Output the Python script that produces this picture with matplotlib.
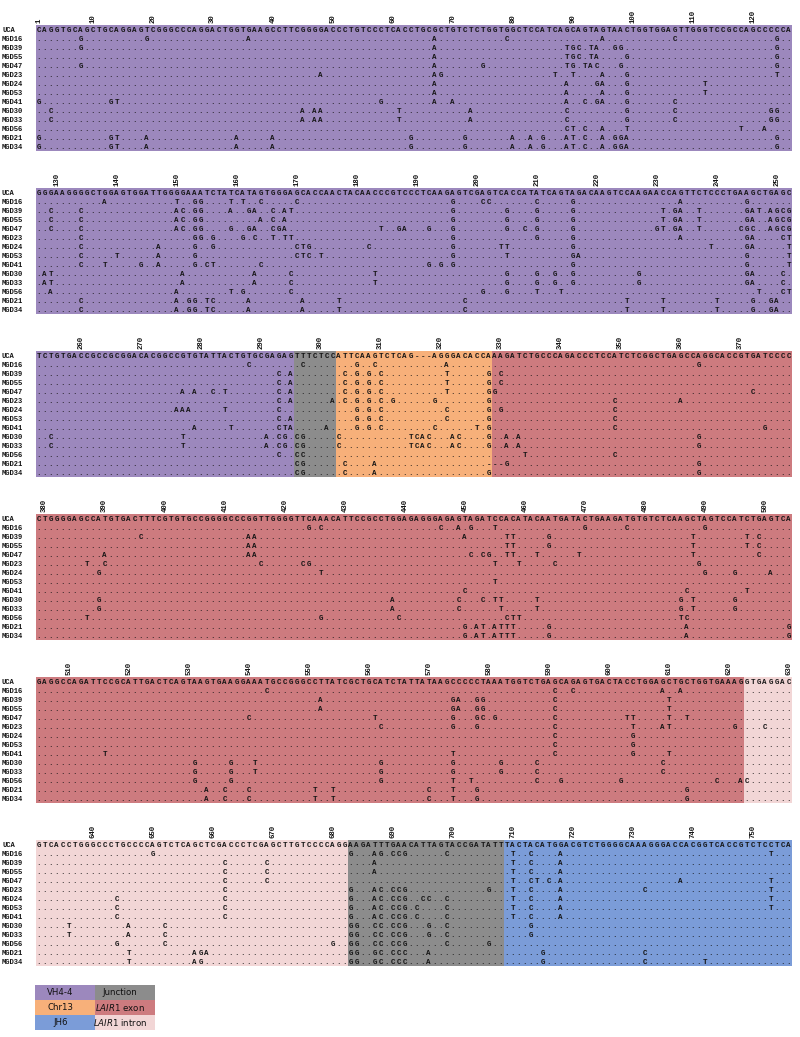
import matplotlib
matplotlib.use("Agg")
import matplotlib.pyplot as plt

# ---- data -------------------------------------------------------------
uca_blocks = [
    "CAGGTGCAGCTGCAGGAGTCGGGCCCAGGACTGGTGAAGCCTTCGGGGACCCTGTCCCTCACCTGCGCTGTCTCTGGTGGCTCCATCAGCAGTAGTAACTGGTGGAGTTGGGTCCGCCAGCCCCCA",
    "GGGAAGGGGCTGGAGTGGATTGGGGAAATCTATCATAGTGGGAGCACCAACTACAACCCGTCCCTCAAGAGTCGAGTCACCATATCAGTAGACAAGTCCAAGAACCAGTTCTCCCTGAAGCTGAGC",
    "TCTGTGACCGCCGCGGACACGGCCGTGTATTACTGTGCGAGAGTTTCTCCATTCAAGTCTCAG---AGGGACACCAAAGATCTGCCCAGACCCTCCATCTCGGCTGAGCCAGGCACCGTGATCCCC",
    "CTGGGGAGCCATGTGACTTTCGTGTGCCGGGGCCCGGTTGGGGTTCAAACATTCCGCCTGGAGAGGGAGAGTAGATCCACATACAATGATACTGAAGATGTGTCTCAAGCTAGTCCATCTGAGTCA",
    "GAGGCCAGATTCCGCATTGACTCAGTAAGTGAAGGAAATGCCGGGCCTTATCGCTGCATCTATTATAAGCCCCCTAAATGGTCTGAGCAGAGTGACTACCTGGAGCTGCTGGTGAAAGGTGAGGAC",
    "GTCACCTGGGCCCTGCCCCAGTCTCAGCTCGACCCTCGAGCTTGTCCCCAGGAAGATTTGAACATTAGTACCGATATTTACTACATGGACGTCTGGGGCAAAGGGACCACGGTCACCGTCTCCTCA",
]

# mutations relative to UCA: position + base ("-" = deletion)
mgd16 = ("8G 19G 36A 67A 79C 95A 107C 124G 138A 150T 153G 154G 159T 161T 164C 170C 196G 201C 202C 210C "
         "216G 234A 245G 288C 297C 306G 309C 321A 363G 424G 426C 446C 449A 451G 455T 470G 477C 490G "
         "543C 591C 594C 609A 612A 650G 683G 687A 688G 690C 691C 692G 699C 710T 713C 718A 753T")
mgd39 = ("8G 67A 89T 90G 91C 93T 94A 97G 98G 124G 129C 134C 150A 151C 153G 154G 159A 162G 163A 166C 168A "
         "169T 196G 205G 210G 216G 231T 233G 234A 237T 245G 246A 247T 249A 250G 251C 252G 293C 295A 304C "
         "306G 308G 310C 321T 328G 330C 396C 414A 415A 450A 457T 458T 464G 488T 497T 499C 552A 574G 575A "
         "578G 579G 591C 610T 662C 669C 687A 710T 713C 718A")
mgd55 = ("67A 89T 90G 91C 93T 94A 99G 124G 129C 134C 150A 151C 153G 154G 164A 166C 168A 196G 205G 210G "
         "216G 231T 233G 234A 237T 245G 246A 249A 250G 251C 252G 293C 295A 304C 306G 308G 310C 321T 328G "
         "330C 414A 415A 457T 458T 464G 488T 497T 499C 552A 574G 575A 578G 579G 591C 610T 662C 669C 687A "
         "710T 713C 718A")
mgd47 = ("8G 67A 75G 89T 90G 92T 93A 94C 98G 124G 129C 134C 150A 151C 153G 154G 159G 162G 163A 166C 167G "
         "168A 184T 187G 188A 192G 196G 205G 208C 210G 216G 230G 231T 233G 234A 237T 244C 245G 246C 249A "
         "250G 251C 252G 277A 279A 282C 284T 293C 295A 304C 306G 308G 310C 321T 328G 329G 372C 390A 414A "
         "415A 451C 453C 454G 457T 458T 462T 469T 488T 499C 540C 561T 574G 578G 579C 581G 591C 603T 604T "
         "610T 613T 662C 669C 710T 713C 714T 716C 718A 738A 753T")
mgd23 = ("48A 67A 68G 87T 90T 95A 99G 124T 134C 153G 154G 156G 161G 163C 166T 168T 169T 196G 210G 216G "
         "234A 245G 246A 251C 252T 293C 295A 302A 304C 306G 308G 310C 312G 319G 328G 349C 360A 387T 390C "
         "416C 423C 424G 455T 459T 465C 489G 562C 574G 578G 591C 604T 609A 610T 621G 626C 662C 683G 687A "
         "688C 690C 691C 692G 706G 710T 713C 718A 732C 753T")
mgd24 = ("67A 89A 94G 95A 99G 112T 134C 147A 153G 156G 170C 171T 172G 182C 196G 204T 205T 216G 239T 245G "
         "246A 252T 276A 277A 278A 284T 293C 306G 308G 310C 321C 328G 330G 349C 389G 426T 490G 495G 501A "
         "591C 604G 644C 662C 683G 687A 688C 690C 691C 692G 695C 696C 699C 710T 713C 718A 753T")
mgd53 = ("67A 89A 95A 99G 112T 134C 140T 147A 153G 170C 171T 172C 174T 196G 205T 216G 217A 245G 252T "
         "293C 295A 306G 308G 310C 321C 328G 349C 455T 591C 604G 644C 662C 683G 687A 688C 690C 691C 692G "
         "694C 699C 710T 713C 718A 753T")
mgd41 = ("1G 13G 14T 58G 67A 70A 89A 92C 94G 95A 99G 107C 134C 138T 144G 147A 153G 155C 156T 164C 192G "
         "194G 196G 216G 245G 252T 279A 285T 293C 294T 295A 301A 306G 308G 310C 319C 326T 328G 349C 374G "
         "450C 487C 497T 516T 574T 591C 604G 610T 644C 662C 683G 687A 688C 690C 691C 692G 694C 699C 710T "
         "713C 718A")
mgd30 = ("3C 45A 47A 48A 61T 73A 89C 99G 107C 123G 124G 128A 129T 151A 163A 169C 183T 205G 210G 213G 216G "
         "227G 245G 246A 251C 255C 277T 291A 293C 294G 296C 297G 303C 315T 316C 317A 318C 322A 323C 328G "
         "331A 333A 363G 389G 438A 449C 453C 455T 456T 462T 486G 488T 495G 531G 537G 541T 562G 574G 582G "
         "588C 609C 636T 646A 652C 683G 684G 687C 688C 690C 691C 692G 696G 699C 713G")
mgd33 = ("3C 45A 47A 48A 61T 73A 89C 99G 107C 123G 124G 128A 129T 151A 163A 169C 183T 205G 210G 213G 216G "
         "227G 245G 246A 251C 255C 277T 291A 293C 294G 296C 297G 303C 315T 316C 317A 318C 322A 323C 328G "
         "331A 333A 363G 389G 438A 449C 456T 462T 486G 488T 495G 531G 537G 541T 562G 574G 582G 588C 609C "
         "636T 646A 652C 683G 684G 687C 688C 690C 691C 692G 696G 699C 713G")
mgd56 = ("89C 90T 92C 95A 99T 118T 122A 129A 150A 159T 161G 169C 201G 205G 210T 214T 247T 251C 252T 293C "
         "296C 297C 334T 349C 387T 426G 439C 457C 458T 459T 486T 487C 531G 537G 562G 574T 577T 588C 592G "
         "602G 618C 622A 623C 644G 652C 680G 683G 684G 687C 688C 690C 691C 692G 699C 706G")
mgd21 = ("1G 13G 14T 19A 34A 40A 63G 72G 80A 83A 85G 89A 90T 92C 95A 97G 98G 99A 124G 134C 150A 152G 153G "
         "155T 156C 162A 171A 177T 198C 225T 231T 240T 246G 249G 250A 296C 297G 304C 309A 328- 329- 330- "
         "331G 363G 450G 452A 453T 455A 456T 457T 458T 464G 487A 504G 533A 536C 540C 551T 554T 570C 574T "
         "578G 613G 646T 657A 658G 659A 683G 684G 687G 688C 690C 691C 692C 696A 715G 732C")
mgd34 = ("1G 13G 14T 19A 34A 40A 63G 72G 80A 83A 85G 89A 90T 92C 95A 97G 98G 99A 124G 134C 150A 152G 153G "
         "155T 156C 162A 171A 177T 198C 225T 231T 240T 246G 249G 250A 296C 297G 304C 309A 328G 363G 450G "
         "452A 453T 455A 456T 457T 458T 464G 487A 504G 533A 536C 540C 551T 554T 570C 574T 578G 613G 646T "
         "657A 658G 683G 684G 687G 688C 690C 691C 692C 696A 715G 732C 742T")

clone_names = ["MGD16", "MGD39", "MGD55", "MGD47", "MGD23", "MGD24", "MGD53",
               "MGD41", "MGD30", "MGD33", "MGD56", "MGD21", "MGD34"]
clone_muts = [mgd16, mgd39, mgd55, mgd47, mgd23, mgd24, mgd53,
              mgd41, mgd30, mgd33, mgd56, mgd21, mgd34]

region_names = ["VH4-4", "Junction", "Chr13", r"$\mathit{LAIR1}$ exon",
                r"$\mathit{LAIR1}$ intron", "Junction", "JH6"]
region_start = [1, 296, 303, 329, 623, 683, 709]
region_end = [295, 302, 328, 622, 682, 708, 756]
region_colors = ["#9c88bd", "#8c8c8c", "#f7b07a", "#cd7b7f", "#f2d6d6", "#8c8c8c", "#7b9cd8"]

# legend cells: (region index) laid out 3 rows x 2 columns
legend_grid = [[0, 1], [2, 3], [6, 4]]

# ---- layout -----------------------------------------------------------
W, H = 800, 1037
fig = plt.figure(figsize=(W / 100, H / 100), dpi=100)

x0 = 35.7        # px, left edge of first alignment column
colw = 6.0       # px per column
rowh = 9.0       # px per row
block_len = 126
first_row_y = 29.3
block_step = 163.0

uca = "".join(uca_blocks)
mono = dict(family="Liberation Mono", weight="bold", color="#141414")
txt_size = 5.4

# build per-clone rows of dots with mutations filled in
rows = []
for muts in clone_muts:
    seq = ["."] * len(uca)
    for tok in muts.split():
        seq[int(tok[:-1]) - 1] = tok[-1]
    rows.append(seq)

for b in range(len(uca_blocks)):
    start = b * block_len + 1
    end = min(start + block_len - 1, len(uca))
    yc = first_row_y + b * block_step
    top_px = yc - 32
    bot_px = yc + 13 * rowh + 6
    ax = fig.add_axes([0, 1 - bot_px / H, 1, (bot_px - top_px) / H])
    ax.set_xlim(start - 0.5 - x0 / colw, start - 0.5 + (W - x0) / colw)
    ax.set_ylim((bot_px - yc) / rowh, (top_px - yc) / rowh)
    ax.axis("off")

    # coloured regions behind the sequences
    for rs, re_, c in zip(region_start, region_end, region_colors):
        lo, hi = max(rs, start), min(re_, end)
        if lo <= hi:
            ax.bar((lo + hi) / 2, 14, width=hi - lo + 1, bottom=-0.5,
                   color=c, linewidth=0, zorder=0)

    # ruler
    for p in range(start, end + 1):
        if p == 1 or p % 10 == 0:
            ax.text(p, -0.75, str(p), rotation=90, ha="center", va="bottom",
                    size=5.3, **mono)

    # row labels
    lab_x = start - 0.5 + (2 - x0) / colw
    ax.text(lab_x, 0.28, "UCA", ha="left", va="baseline", size=txt_size - 0.3, **mono)
    for r, name in enumerate(clone_names, start=1):
        ax.text(lab_x, r + 0.28, name, ha="left", va="baseline", size=txt_size - 0.3, **mono)

    # sequences
    for p in range(start, end + 1):
        ax.text(p, 0.28, uca[p - 1], ha="center", va="baseline", size=txt_size, **mono)
        for r, seq in enumerate(rows, start=1):
            ax.text(p, r + 0.28, seq[p - 1], ha="center", va="baseline",
                    size=txt_size, **mono)

# ---- legend -----------------------------------------------------------
lax = fig.add_axes([35 / W, 1 - 1030 / H, 120 / W, 45 / H])
lax.set_xlim(0, 2)
lax.set_ylim(3, 0)
lax.axis("off")
for i, row in enumerate(legend_grid):
    for j, ri in enumerate(row):
        lax.bar(j + 0.5, 1, width=1, bottom=i, color=region_colors[ri],
                linewidth=0)
        lax.text(j + 0.42, i + 0.5, region_names[ri], ha="center", va="center",
                 size=6.2, color="#111111")

fig.savefig("out.png", dpi=100)
